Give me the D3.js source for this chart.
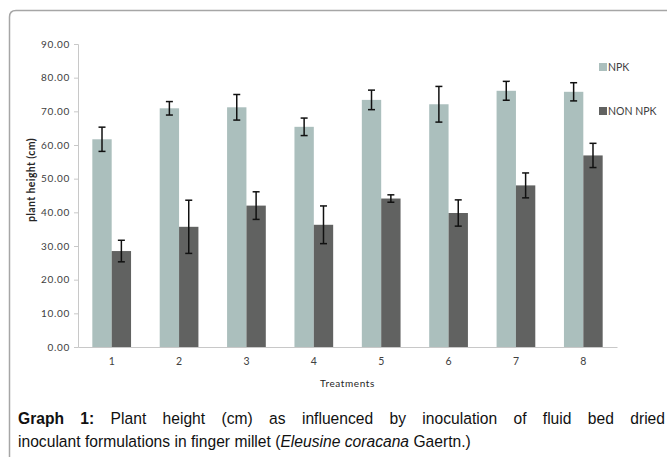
<!DOCTYPE html>
<html>
<head>
<meta charset="utf-8">
<script src="https://cdn.jsdelivr.net/npm/d3@7"></script>
<style>
  body { margin: 0; background: #fff; }
  svg { display: block; }
</style>
</head>
<body>
<svg id="chart" width="667" height="457"></svg>
<script>
// plant height per treatment, NPK vs NON NPK
var treatments = ["1", "2", "3", "4", "5", "6", "7", "8"];
var seriesNames = ["NPK", "NON NPK"];
var npk = [61.7, 70.9, 71.2, 65.4, 73.4, 72.1, 76.1, 75.8];
var npkErr = [3.6, 2.0, 3.8, 2.6, 2.9, 5.3, 2.8, 2.7];
var nonNpk = [28.5, 35.7, 42.0, 36.3, 44.1, 39.8, 48.0, 56.9];
var nonNpkErr = [3.2, 7.9, 4.1, 5.6, 1.1, 3.9, 3.7, 3.6];
var yTicks = [0, 10, 20, 30, 40, 50, 60, 70, 80, 90];

var colors = { "NPK": "#abbfbd", "NON NPK": "#616261" };

var svg = d3.select("#chart");

// outer frame, rounded top-left corner
svg.append("path")
  .attr("d", "M9.5,457 V17 Q9.5,10.5 16,10.5 H667")
  .attr("fill", "none")
  .attr("stroke", "#a6a6a6")
  .attr("stroke-width", 1.5);

var plotLeft = 78, plotRight = 617, plotTop = 44, plotBottom = 347;

var y = d3.scaleLinear().domain([0, 90]).range([plotBottom, plotTop]);
var x0 = d3.scaleBand().domain(treatments).range([plotLeft, plotRight]).padding(0);
var x1 = d3.scaleBand().domain(seriesNames).range([0, x0.bandwidth()])
  .paddingInner(0).paddingOuter(0.74);

var rows = treatments.map(function(t, i) {
  return [
    { t: t, s: "NPK", v: npk[i], e: npkErr[i] },
    { t: t, s: "NON NPK", v: nonNpk[i], e: nonNpkErr[i] }
  ];
});

// y axis
var yAxis = svg.append("g")
  .attr("transform", "translate(" + plotLeft + ",0)")
  .call(d3.axisLeft(y).tickValues(yTicks).tickSize(4).tickPadding(4)
    .tickFormat(function(d) { return d3.format(".2f")(d); }));
yAxis.select(".domain").attr("stroke", "#c8c8c8");
yAxis.selectAll(".tick line").attr("stroke", "#c8c8c8");
yAxis.selectAll("text")
  .attr("font-family", "Lato, 'DejaVu Sans', sans-serif")
  .attr("font-size", 10)
  .attr("letter-spacing", 0.7)
  .attr("fill", "#404040");

// bars
var groups = svg.append("g").selectAll("g")
  .data(rows)
  .enter().append("g")
    .attr("transform", function(d) { return "translate(" + x0(d[0].t) + ",0)"; });

groups.selectAll("rect")
  .data(function(d) { return d; })
  .enter().append("rect")
    .attr("x", function(d) { return x1(d.s); })
    .attr("y", function(d) { return y(d.v); })
    .attr("width", x1.bandwidth())
    .attr("height", function(d) { return plotBottom - y(d.v); })
    .attr("fill", function(d) { return colors[d.s]; });

// error bars
var err = groups.selectAll("g.err")
  .data(function(d) { return d; })
  .enter().append("g")
    .attr("class", "err")
    .attr("stroke", "#111")
    .attr("stroke-width", 1.5);

var cx = function(d) { return x1(d.s) + x1.bandwidth() / 2; };
err.append("line")
  .attr("x1", cx).attr("x2", cx)
  .attr("y1", function(d) { return y(d.v + d.e); })
  .attr("y2", function(d) { return y(d.v - d.e); });
err.append("line")
  .attr("x1", function(d) { return cx(d) - 3.5; })
  .attr("x2", function(d) { return cx(d) + 3.5; })
  .attr("y1", function(d) { return y(d.v + d.e); })
  .attr("y2", function(d) { return y(d.v + d.e); });
err.append("line")
  .attr("x1", function(d) { return cx(d) - 3.5; })
  .attr("x2", function(d) { return cx(d) + 3.5; })
  .attr("y1", function(d) { return y(d.v - d.e); })
  .attr("y2", function(d) { return y(d.v - d.e); });

// x axis
var xAxis = svg.append("g")
  .attr("transform", "translate(0," + plotBottom + ")")
  .call(d3.axisBottom(x0).tickSize(0).tickPadding(11));
xAxis.select(".domain").attr("stroke", "#c8c8c8");
xAxis.selectAll("text")
  .attr("font-family", "Lato, 'DejaVu Sans', sans-serif")
  .attr("font-size", 10.5)
  .attr("fill", "#404040");

// axis titles
svg.append("text")
  .attr("x", (plotLeft + plotRight) / 2)
  .attr("y", 387)
  .attr("text-anchor", "middle")
  .attr("font-family", "Lato, 'DejaVu Sans', sans-serif")
  .attr("font-size", 10)
  .attr("letter-spacing", 0.6)
  .attr("fill", "#262626")
  .text("Treatments");

svg.append("text")
  .attr("transform", "translate(35,180) rotate(-90)")
  .attr("text-anchor", "middle")
  .attr("font-family", "Lato, 'DejaVu Sans', sans-serif")
  .attr("font-size", 10.5)
  .attr("font-weight", "bold")
  .attr("letter-spacing", 0.4)
  .attr("fill", "#262626")
  .text("plant height  (cm)");

// legend
var legend = svg.append("g").selectAll("g")
  .data(seriesNames)
  .enter().append("g")
    .attr("transform", function(d, i) { return "translate(599," + (63 + i * 44) + ")"; });
legend.append("rect")
  .attr("width", 8).attr("height", 8)
  .attr("fill", function(d) { return colors[d]; });
legend.append("text")
  .attr("x", 9)
  .attr("y", 8)
  .attr("font-family", "Lato, 'DejaVu Sans', sans-serif")
  .attr("font-size", 10.5)
  .attr("fill", "#404040")
  .text(function(d) { return d; });

// caption, squeezed horizontally to look like a narrow face
var cap = svg.append("g")
  .attr("transform", "translate(18,0) scale(0.92,1)")
  .attr("font-family", "'Liberation Sans', Arial, sans-serif")
  .attr("font-size", 17)
  .attr("fill", "#111");
var line1 = cap.append("text")
  .attr("x", 0).attr("y", 424);
line1.append("tspan").attr("font-weight", "bold").text("Graph 1:");
line1.append("tspan").text(" Plant height (cm) as influenced by inoculation of fluid bed dried");
// justify line 1 by stretching the word gaps
var natural = line1.node().getComputedTextLength();
var gaps = line1.text().split(" ").length - 1;
line1.attr("word-spacing", (647 / 0.92 - natural) / gaps);

var line2 = cap.append("text").attr("x", 0).attr("y", 447);
line2.append("tspan").text("inoculant formulations in finger millet (");
line2.append("tspan").attr("font-style", "italic").text("Eleusine coracana");
line2.append("tspan").text(" Gaertn.)");
</script>
</body>
</html>
